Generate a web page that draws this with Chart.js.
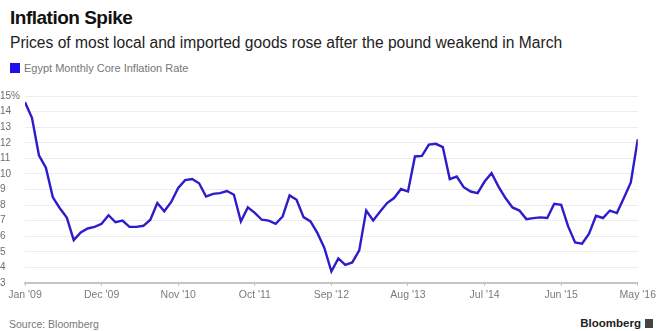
<!DOCTYPE html>
<html>
<head>
<meta charset="utf-8">
<script src="https://cdn.jsdelivr.net/npm/chart.js@4"></script>
<style>
  html, body { margin: 0; padding: 0; background: #fff; }
  body { width: 659px; height: 331px; position: relative; overflow: hidden; font-family: "Liberation Sans", Arial, sans-serif; }
  .title { position: absolute; left: 10px; top: 7px; font-size: 19px; font-weight: bold; color: #111; letter-spacing: -0.5px; }
  .subtitle { position: absolute; left: 10px; top: 34px; font-size: 15.6px; color: #222; }
  .legend { position: absolute; left: 10px; top: 62px; font-size: 11px; color: #777; }
  .legend i { display: inline-block; width: 10px; height: 10px; background: #1f10e8; vertical-align: -1px; margin-right: 4px; }
  .chart { position: absolute; left: 0; top: 80px; width: 659px; height: 230px; }
  .source { position: absolute; left: 9px; top: 318px; font-size: 10.5px; color: #777; }
  .brand { position: absolute; right: 6px; top: 317px; font-size: 11.5px; font-weight: bold; color: #222; }
  .brand b { display: inline-block; width: 8px; height: 9px; background: #444; margin-left: 4px; vertical-align: -1px; }
</style>
</head>
<body>
<div class="title">Inflation Spike</div>
<div class="subtitle">Prices of most local and imported goods rose after the pound weakend in March</div>
<div class="legend"><i></i>Egypt Monthly Core Inflation Rate</div>
<div class="chart"><canvas id="chart" width="659" height="230"></canvas></div>
<div class="source">Source: Bloomberg</div>
<div class="brand">Bloomberg<b></b></div>
<script>
// Monthly core inflation, Jan 2009 .. May 2016 (one value per month)
const coreInflation = [
  14.6, 13.6, 11.2, 10.4, 8.5, 7.8, 7.2, 5.75, 6.25, 6.5, 6.6, 6.8,
  7.35, 6.9, 7.0, 6.6, 6.6, 6.67, 7.06, 8.13, 7.6, 8.2, 9.1, 9.6,
  9.67, 9.4, 8.55, 8.72, 8.77, 8.9, 8.66, 6.95, 7.85, 7.5, 7.06, 7.0,
  6.8, 7.27, 8.62, 8.34, 7.23, 6.95, 6.2, 5.24, 3.74, 4.58, 4.17, 4.32,
  5.09, 7.65, 7.01, 7.59, 8.13, 8.45, 9.03, 8.87, 11.12, 11.16, 11.88, 11.93,
  11.72, 9.67, 9.83, 9.15, 8.87, 8.77, 9.51, 10.05, 9.19, 8.45, 7.85, 7.65,
  7.1, 7.16, 7.21, 7.17, 8.08, 8.02, 6.63, 5.6, 5.52, 6.16, 7.31, 7.17,
  7.65, 7.49, 8.45, 9.45, 12.23
];

// x-axis labels, one every 11 months
const tickLabels = ["Jan '09", "Dec '09", "Nov '10", "Oct '11", "Sep '12", "Aug '13", "Jul '14", "Jun '15", "May '16"];
const tickStep = 11;

const yMin = 3;
const yMax = 15;

const points = coreInflation.map((v, i) => ({ x: i, y: v }));

new Chart(document.getElementById('chart'), {
  type: 'line',
  data: {
    datasets: [{
      label: 'Egypt Monthly Core Inflation Rate',
      data: points,
      borderColor: '#2c1ccc',
      borderWidth: 2.4,
      pointRadius: 0,
      tension: 0,
      fill: false
    }]
  },
  options: {
    responsive: false,
    animation: false,
    layout: { padding: { top: 16, right: 17, left: 0, bottom: 0 } },
    plugins: {
      legend: { display: false },
      tooltip: { enabled: false }
    },
    scales: {
      x: {
        type: 'linear',
        min: 0,
        max: coreInflation.length - 1,
        afterBuildTicks: scale => {
          scale.ticks = tickLabels.map((_, i) => ({ value: i * tickStep }));
        },
        afterFit: scale => { scale.height = 27; },
        border: { display: true, color: '#c4c4c4', width: 2 },
        grid: { display: true, drawOnChartArea: false, drawTicks: true, tickLength: 3, color: '#c4c4c4' },
        ticks: {
          autoSkip: false,
          maxRotation: 0,
          padding: 3,
          color: '#7a7a7a',
          font: { family: 'Liberation Sans', size: 10.5 },
          callback: value => tickLabels[Math.round(value / tickStep)]
        }
      },
      y: {
        min: yMin,
        max: yMax,
        afterFit: scale => { scale.width = 25; },
        border: { display: false },
        grid: { color: '#ececec', lineWidth: 1, drawTicks: false },
        ticks: {
          stepSize: 1,
          crossAlign: 'far',
          padding: 0,
          color: '#6e6e6e',
          font: { family: 'Liberation Sans', size: 10 },
          callback: value => value === yMax ? value + '%' : value
        }
      }
    }
  }
});
</script>
</body>
</html>
